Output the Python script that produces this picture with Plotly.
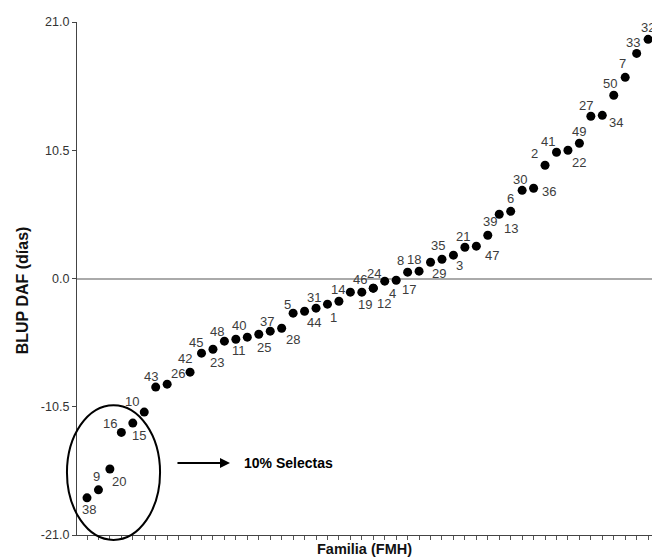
import plotly.graph_objects as go

# ---- data ----
family = [38, 9, 20, 16, 15, 10, 43, 26, 42, 45, 23, 48, 11, 40, 25, 37, 28, 5, 44, 31,
          1, 14, 46, 19, 24, 12, 4, 17, 8, 18, 29, 35, 3, 21, 47, 39, 13, 6, 30, 36,
          2, 41, 22, 49, 27, 34, 50, 7, 33, 32]
rank = [1, 2, 3, 4, 5, 6, 7, 8, 10, 11, 12, 13, 14, 15, 16, 17, 18, 19, 20, 21,
        22, 23, 24, 25, 26, 26, 27, 28, 29, 30, 31, 32, 33, 34, 35, 36, 37, 38, 39, 40,
        41, 42, 43, 44, 45, 46, 47, 48, 49, 50]
blup = [-17.96, -17.30, -15.60, -12.60, -11.84, -10.94, -8.89, -8.65, -7.67, -6.11,
        -5.79, -5.13, -4.97, -4.80, -4.56, -4.31, -4.07, -2.84, -2.68, -2.43,
        -2.10, -1.86, -1.12, -1.12, -0.79, -0.79, -0.22, -0.14, 0.52, 0.60,
        1.33, 1.58, 1.91, 2.56, 2.65, 3.54, 5.26, 5.50, 7.22, 7.39,
        9.27, 10.34, 10.50, 11.07, 13.28, 13.36, 15.00, 16.47, 18.43, 19.58]
y_tick_vals = [-21.0, -10.5, 0.0, 10.5, 21.0]
y_tick_text = ["-21.0", "-10.5", "0.0", "10.5", "21.0"]

# ---- label offsets in pixels (style only) ----
label_dx = [2, -2, 9, -11, 6, -12, -5, 11, -5, -6,
            4, -7, 3, -8, 5, -3, 11, -6, 9, -2,
            6, -1, 10, 3, 1, 11, 8, 13, -7, -5,
            8, -4, 6, -2, 16, 2, 12, 0, -2, 15,
            -11, -9, 11, 0, -5, 14, -4, -3, -4, 0]
label_dy = [12, -13, 12, -9, 12, -11, -11, -11, -14, -11,
            13, -10, 11, -12, 13, -10, 11, -9, 11, -11,
            13, -12, -13, 12, -15, 15, 12, 9, -12, -12,
            11, -14, 10, -11, 9, -14, 14, -13, -11, 3,
            -12, -11, 12, -12, -11, 7, -12, -14, -11, -12]

X_RANGE = [0.127, 50.34]
Y_RANGE = [-21.0, 21.0]
LABEL_FONT = dict(family="Liberation Sans, Arial", size=13, color="#3c3c3c")

fig = go.Figure()
fig.add_trace(go.Scatter(
    x=rank, y=blup, mode="markers",
    marker=dict(size=9, color="black"),
    cliponaxis=False, showlegend=False, hoverinfo="skip",
))

for xv, yv, fam, dx, dy in zip(rank, blup, family, label_dx, label_dy):
    fig.add_annotation(x=xv, y=yv, xref="x", yref="y", text=str(fam),
                       showarrow=False, xshift=dx, yshift=-dy,
                       font=LABEL_FONT)


def px_(x):
    return (x - X_RANGE[0]) / (X_RANGE[1] - X_RANGE[0])


def py_(y):
    return (y - Y_RANGE[0]) / (Y_RANGE[1] - Y_RANGE[0])


# selection ellipse (paper coords so it can spill past the axes)
fig.add_shape(type="circle", xref="paper", yref="paper",
              x0=px_(-0.75), x1=px_(7.38), y0=py_(-21.4), y1=py_(-10.37),
              line=dict(color="black", width=2))

fig.add_annotation(x=13.49, y=-15.11, ax=8.77, ay=-15.11, axref="x", ayref="y",
                   xref="x", yref="y", text="", showarrow=True,
                   arrowhead=2, arrowsize=1, arrowwidth=2, arrowcolor="black")
fig.add_annotation(x=14.55, y=-15.11, xref="x", yref="y", xanchor="left",
                   text="<b>10% Selectas</b>", showarrow=False,
                   font=dict(family="Liberation Sans, Arial", size=14, color="black"))

# y-axis title
fig.add_annotation(x=-0.0957, y=0.477, xref="paper", yref="paper",
                   text="<b>BLUP DAF (días)</b>", textangle=-90, showarrow=False,
                   xanchor="center", yanchor="middle",
                   font=dict(family="Liberation Sans, Arial", size=16, color="#111"))

fig.update_layout(
    width=652, height=559,
    margin=dict(l=77, r=0, t=22, b=24),
    plot_bgcolor="white", paper_bgcolor="white",
    font=dict(family="Liberation Sans, Arial", color="#333"),
    xaxis=dict(range=X_RANGE, showgrid=False, zeroline=False,
               showline=True, linecolor="#444", linewidth=1.3,
               ticks="outside", ticklen=4, tickcolor="#555", tickwidth=1,
               tickvals=list(range(1, 51)), showticklabels=False,
               title=dict(text="<b>Familia (FMH)</b>", standoff=4,
                          font=dict(size=14.5, color="#111"))),
    yaxis=dict(range=Y_RANGE, showgrid=False,
               zeroline=True, zerolinecolor="#aaaaaa", zerolinewidth=1.5,
               showline=True, linecolor="#444", linewidth=1.3,
               ticks="outside", ticklen=4, tickcolor="#444",
               tickvals=y_tick_vals, ticktext=y_tick_text,
               tickfont=dict(size=12.5, color="#333")),
)

fig.write_html("out.html")
